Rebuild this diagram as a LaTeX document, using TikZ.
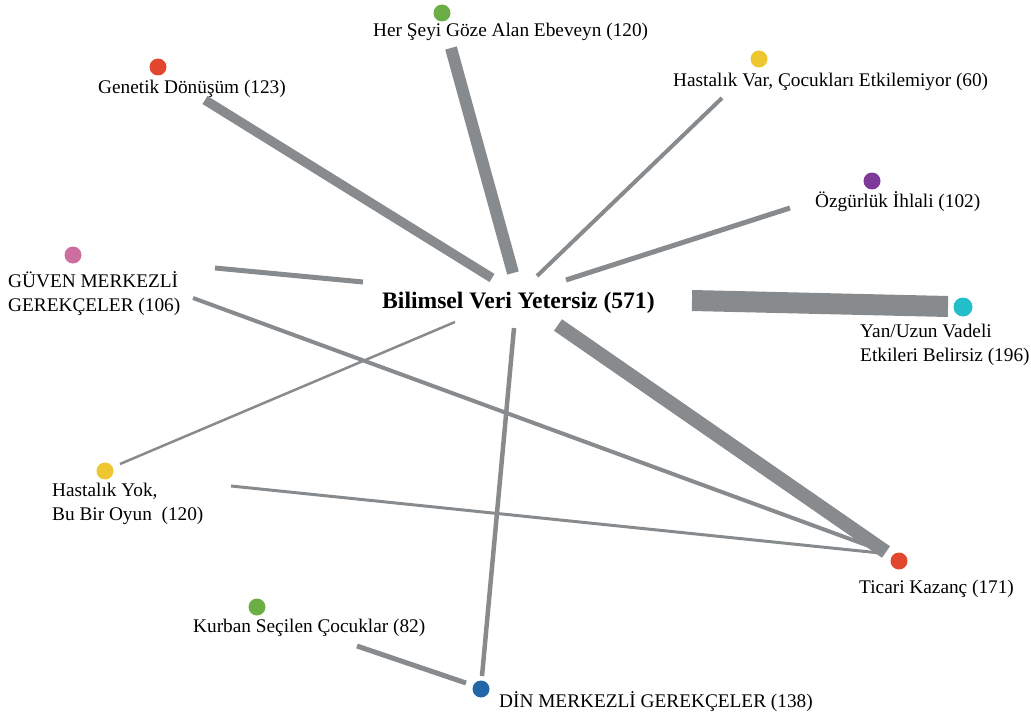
\documentclass[tikz,border=0pt]{standalone}
\usepackage{fontspec}
\setmainfont{Liberation Serif}
\definecolor{edgegray}{HTML}{878B8E}
\definecolor{cred}{HTML}{E2462F}
\definecolor{cgreen}{HTML}{6AAE45}
\definecolor{cyellow}{HTML}{EEC630}
\definecolor{cpurple}{HTML}{7D3A98}
\definecolor{cpink}{HTML}{CC6E9E}
\definecolor{ccyan}{HTML}{22BFCB}
\definecolor{cblue}{HTML}{2268A8}
\begin{document}
\begin{tikzpicture}[x=1pt,y=-1pt,
  dot/.style={circle,inner sep=0pt,minimum size=17pt,fill=#1},
  lbl/.style={anchor=base west,inner sep=0pt,font=\fontsize{19.3}{23.5}\selectfont,align=left},
  centerlbl/.style={anchor=base west,inner sep=0pt,font=\fontsize{23.6}{27}\selectfont\bfseries},
  link/.style={draw=edgegray,line cap=butt,line width=#1}]
\useasboundingbox (0,0) rectangle (1031,717);
% dots
\node[dot=cred] (dGen) at (158,67) {};
\node[dot=cgreen] (dHer) at (442,13) {};
\node[dot=cyellow] (dVar) at (759,59) {};
\node[dot=cpurple] (dOzg) at (872,181) {};
\node[dot=cpink] (dGuv) at (73,255) {};
\node[dot=ccyan,minimum size=19pt] (dYan) at (963,307) {};
\node[dot=cyellow] (dYok) at (105,471) {};
\node[dot=cred] (dTic) at (899,561) {};
\node[dot=cgreen] (dKur) at (257,607) {};
\node[dot=cblue] (dDin) at (481,689) {};
% labels (multi-line labels: base = last line)
\node[lbl] (lGen) at (98,93) {Genetik Dönüşüm (123)};
\node[lbl] (lHer) at (373,37) {Her Şeyi Göze Alan Ebeveyn (120)};
\node[lbl] (lVar) at (673,86) {Hastalık Var, Çocukları Etkilemiyor (60)};
\node[lbl] (lOzg) at (815,207) {Özgürlük İhlali (102)};
\node[lbl] (lGuv) at (8,311) {GÜVEN MERKEZLİ\\GEREKÇELER (106)};
\node[centerlbl] (lCen) at (382,308) {Bilimsel Veri Yetersiz (571)};
\node[lbl] (lYan) at (860,361) {Yan/Uzun Vadeli\\Etkileri Belirsiz (196)};
\node[lbl] (lYok) at (52,520) {Hastalık Yok,\\Bu Bir Oyun\ \ (120)};
\node[lbl] (lTic) at (859,593) {Ticari Kazanç (171)};
\node[lbl] (lKur) at (193,632) {Kurban Seçilen Çocuklar (82)};
\node[lbl] (lDin) at (499,707) {DİN MERKEZLİ GEREKÇELER (138)};
% connector end points
\coordinate (eGen) at (205,100);   \coordinate (cGen) at (492,278);
\coordinate (eHer) at (451,48);    \coordinate (cHer) at (513,273);
\coordinate (eVar) at (722,98);    \coordinate (cVar) at (537,276);
\coordinate (eOzg) at (790,208);   \coordinate (cOzg) at (566,280);
\coordinate (eGuvA) at (215,268);  \coordinate (cGuv) at (363,282);
\coordinate (eYan) at (948,306.5); \coordinate (cYan) at (692,300.5);
\coordinate (eTicA) at (886,552);  \coordinate (cTic) at (558,325);
\coordinate (eGuvB) at (193,298);  \coordinate (eTicB) at (880,550);
\coordinate (eYokA) at (120,464);  \coordinate (cYok) at (455,322);
\coordinate (eYokB) at (231,486);  \coordinate (eTicC) at (880,553);
\coordinate (eDinA) at (482,676);  \coordinate (cDin) at (514,328);
\coordinate (eKur) at (357,646);   \coordinate (eDinB) at (466,683);
% connectors
\draw[link=9.5pt] (eGen) -- (cGen);
\draw[link=12pt] (eHer) -- (cHer);
\draw[link=4pt] (eVar) -- (cVar);
\draw[link=5pt] (eOzg) -- (cOzg);
\draw[link=5pt] (eGuvA) -- (cGuv);
\draw[link=21pt] (cYan) -- (eYan);
\draw[link=14pt] (cTic) -- (eTicA);
\draw[link=4pt] (eGuvB) -- (eTicB);
\draw[link=2.5pt] (eYokA) -- (cYok);
\draw[link=3pt] (eYokB) -- (eTicC);
\draw[link=4.5pt] (eDinA) -- (cDin);
\draw[link=5pt] (eKur) -- (eDinB);
\end{tikzpicture}
\end{document}
